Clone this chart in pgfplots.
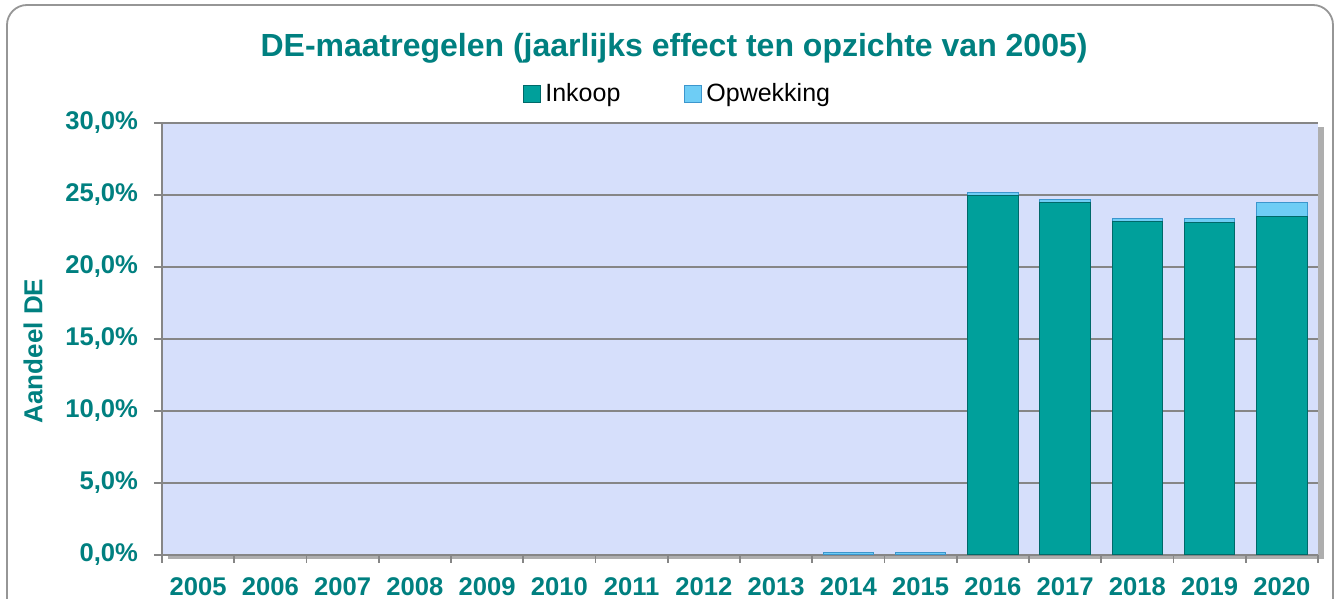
\documentclass[border=0pt]{standalone}
\usepackage{pgfplots}
\pgfplotsset{compat=1.18}
\usepackage{fontspec}
\setmainfont{Liberation Sans}
\usetikzlibrary{shadows}
\definecolor{bgcol}{RGB}{214,223,251}
\definecolor{inkoop}{RGB}{0,160,155}
\definecolor{inkoopdk}{RGB}{0,105,105}
\definecolor{opw}{RGB}{110,205,245}
\definecolor{opwdk}{RGB}{60,150,205}
\definecolor{txt}{RGB}{0,128,128}
\definecolor{gridg}{RGB}{134,134,134}
\definecolor{frameg}{RGB}{150,150,150}

\pgfplotstableread{
x inkoop opwekking
0  0     0
1  0     0
2  0     0
3  0     0
4  0     0
5  0     0
6  0     0
7  0     0
8  0     0
9  0     0.15
10 0     0.15
11 25.0  0.2
12 24.5  0.2
13 23.15 0.25
14 23.1  0.25
15 23.5  0.95
}\datatable

\begin{document}
\begin{tikzpicture}
\useasboundingbox (0,0) rectangle (669pt,-299.5pt);
\clip (0,0) rectangle (669pt,-299.5pt);
\draw[frameg, line width=0.9pt, rounded corners=10pt, fill=white] (3.5pt,-2.5pt) rectangle (666.5pt,-320pt);
\begin{axis}[
  at={(81pt,-61.5pt)}, anchor=north west,
  scale only axis, width=578pt, height=216pt,
  ybar stacked, bar width=25.25pt,
  xmin=-0.5, xmax=15.5, ymin=0, ymax=30,
  axis background/.style={fill=bgcol, drop shadow={shadow xshift=3pt, shadow yshift=-2pt, opacity=0.45, fill=black!70}},
  axis line style={gridg, line width=0.8pt},
  axis x line*=bottom, axis y line*=left,
  xtick={-0.5,0.5,...,15.5},
  x tick label as interval,
  xticklabels={2005,2006,2007,2008,2009,2010,2011,2012,2013,2014,2015,2016,2017,2018,2019,2020},
  ytick={0,5,...,30},
  yticklabels={{0,0\%},{5,0\%},{10,0\%},{15,0\%},{20,0\%},{25,0\%},{30,0\%}},
  tick align=outside, major tick length=4pt,
  tick style={gridg, line width=0.8pt},
  ymajorgrids, major grid style={gridg, line width=0.75pt},
  xticklabel style={font=\fontsize{12.8}{14}\selectfont\bfseries, text=txt, yshift=-4pt},
  yticklabel style={font=\fontsize{12.8}{14}\selectfont\bfseries, text=txt, xshift=-4.5pt},
  ylabel={Aandeel DE},
  every axis y label/.style={at={(axis description cs:-0.1116,0.472)}, rotate=90, anchor=center, font=\fontsize{13}{15}\selectfont\bfseries, text=txt},
  title={DE-maatregelen (jaarlijks effect ten opzichte van 2005)},
  every axis title/.style={at={(axis description cs:0.443,1.1737)}, anchor=center, font=\fontsize{16}{18}\selectfont\bfseries, text=txt},
  legend columns=2,
  legend style={at={(axis description cs:0.447,1.067)}, anchor=center, draw=none, fill=none, font=\fontsize{12.5}{14}\selectfont, /tikz/every even column/.append style={column sep=30pt}},
  legend image code/.code={\fill[#1] (0pt,-4.25pt) rectangle (8.5pt,4.25pt);},
]
\addplot[fill=inkoop, draw=inkoopdk, line width=0.5pt] table[x=x, y=inkoop] {\datatable};
\addplot[fill=opw, draw=opwdk, line width=0.5pt] table[x=x, y=opwekking] {\datatable};
\legend{Inkoop, Opwekking}
\end{axis}
\end{tikzpicture}
\end{document}
